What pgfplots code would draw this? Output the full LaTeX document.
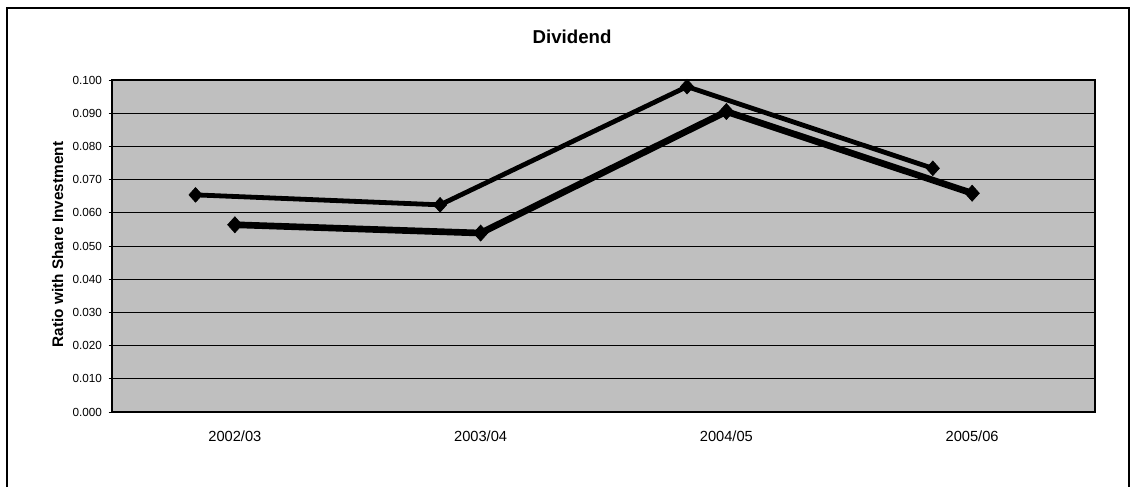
\documentclass[border=0pt]{standalone}
\usepackage{pgfplots}
\pgfplotsset{compat=1.18}
\usepackage{fontspec}
\setmainfont{Liberation Sans}
\begin{document}
\begin{tikzpicture}
\begin{scope}[x=0.75pt,y=0.75pt]
\useasboundingbox (0,0) rectangle (1135,487);
\draw[line width=1.1pt] (7,0) -- (7,479) -- (1129,479) -- (1129,0);
\end{scope}
\begin{axis}[
  at={(84pt,56.25pt)}, anchor=south west,
  scale only axis, width=737.25pt, height=249pt,
  xmin=-0.5, xmax=3.5, ymin=0, ymax=0.1,
  axis background/.style={fill=black!25},
  axis line style={line width=1.1pt},
  xtick={0,1,2,3},
  xticklabels={2002/03,2003/04,2004/05,2005/06},
  xtick style={draw=none},
  ytick={0,0.01,0.02,0.03,0.04,0.05,0.06,0.07,0.08,0.09,0.1},
  ytick pos=left,
  /pgf/number format/assume math mode=true,
  yticklabel={\pgfmathprintnumber[fixed,fixed zerofill,precision=3]{\tick}},
  tick align=outside, major tick length=2.5pt,
  ytick style={black, line width=0.6pt},
  ymajorgrids, major grid style={black, line width=0.5pt},
  xticklabel style={font=\fontsize{11}{13}\selectfont, yshift=-8pt},
  yticklabel style={font=\fontsize{8.8}{10}\selectfont, xshift=-1.5pt},
  title={Dividend},
  title style={font=\bfseries\fontsize{14}{16}\selectfont, at={(axis description cs:0.468,1.105)}, anchor=center},
  ylabel={Ratio with Share Investment},
  ylabel style={font=\bfseries\fontsize{11.5}{13}\selectfont, at={(axis description cs:-0.0554,0.5045)}, anchor=center, rotate=0},
  clip=false,
]
\addplot[black, line width=3.6pt, mark=diamond*, mark size=5.5pt, mark options={xscale=1.2, line width=0.5pt}]
  coordinates {(-0.16,0.0654) (0.835,0.0624) (1.84,0.098) (2.84,0.0734)};
\addplot[black, line width=5pt, mark=diamond*, mark size=6pt, mark options={xscale=1.2, line width=0.5pt}]
  coordinates {(0,0.0564) (1,0.0539) (2,0.0905) (3,0.0659)};
\end{axis}
\end{tikzpicture}
\end{document}
